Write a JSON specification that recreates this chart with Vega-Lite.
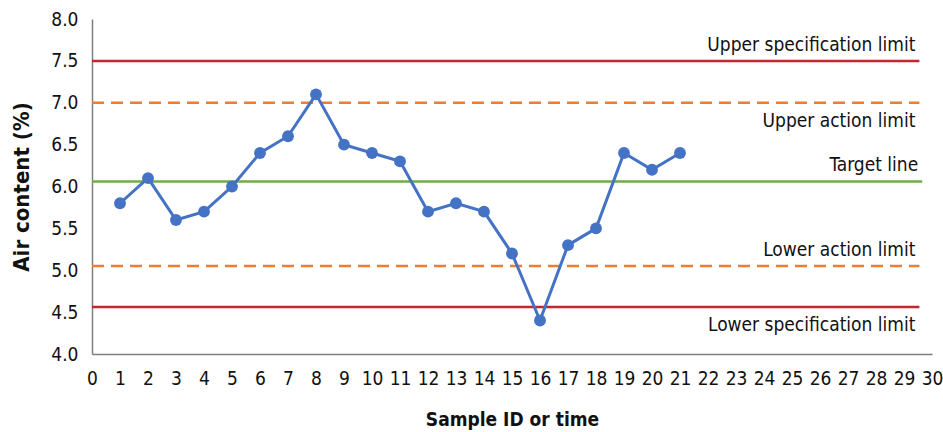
{
  "$schema": "https://vega.github.io/schema/vega-lite/v6.json",
  "width": 840,
  "height": 335,
  "autosize": "none",
  "padding": {"left": 92, "top": 19, "right": 11, "bottom": 78},
  "background": "white",
  "config": {
    "font": "DejaVu Sans Condensed, sans-serif",
    "view": {"stroke": null},
    "axis": {"grid": false, "ticks": false, "domainColor": "#7f7f7f", "domainWidth": 1.5,
      "labelFont": "DejaVu Sans Condensed, sans-serif", "labelFontSize": 19, "labelColor": "#111111",
      "titleFont": "DejaVu Sans Condensed, sans-serif", "titleFontWeight": "bold", "titleColor": "#111111"}
  },
  "datasets": {
    "samples": [
      {"sample": 1, "air": 5.8}, {"sample": 2, "air": 6.1}, {"sample": 3, "air": 5.6},
      {"sample": 4, "air": 5.7}, {"sample": 5, "air": 6.0}, {"sample": 6, "air": 6.4},
      {"sample": 7, "air": 6.6}, {"sample": 8, "air": 7.1}, {"sample": 9, "air": 6.5},
      {"sample": 10, "air": 6.4}, {"sample": 11, "air": 6.3}, {"sample": 12, "air": 5.7},
      {"sample": 13, "air": 5.8}, {"sample": 14, "air": 5.7}, {"sample": 15, "air": 5.2},
      {"sample": 16, "air": 4.4}, {"sample": 17, "air": 5.3}, {"sample": 18, "air": 5.5},
      {"sample": 19, "air": 6.4}, {"sample": 20, "air": 6.2}, {"sample": 21, "air": 6.4}
    ],
    "limits": [
      {"name": "Upper specification limit", "value": 7.5, "start": 0, "end": 29.55, "kind": "spec", "side": "above"},
      {"name": "Upper action limit", "value": 7.0, "start": 0, "end": 29.55, "kind": "action", "side": "below"},
      {"name": "Target line", "value": 6.06, "start": 0, "end": 29.65, "kind": "target", "side": "above"},
      {"name": "Lower action limit", "value": 5.05, "start": 0, "end": 29.55, "kind": "action", "side": "above"},
      {"name": "Lower specification limit", "value": 4.56, "start": 0, "end": 29.55, "kind": "spec", "side": "below"}
    ]
  },
  "encoding": {
    "x": {"type": "quantitative", "scale": {"domain": [0, 30]},
      "axis": {"values": [0,1,2,3,4,5,6,7,8,9,10,11,12,13,14,15,16,17,18,19,20,21,22,23,24,25,26,27,28,29,30], "format": "d", "labelOverlap": false, "labelFlush": false, "labelBound": false, "labelPadding": 15, "title": "Sample ID or time", "titleFontSize": 19, "titlePadding": 22}},
    "y": {"type": "quantitative", "scale": {"domain": [4, 8]},
      "axis": {"values": [4, 4.5, 5, 5.5, 6, 6.5, 7, 7.5, 8], "format": ".1f", "labelPadding": 14, "title": "Air content (%)", "titleFontSize": 22, "titlePadding": 17}}
  },
  "layer": [
    {
      "data": {"name": "limits"},
      "mark": {"type": "rule", "strokeWidth": 2.5},
      "encoding": {
        "y": {"field": "value"},
        "x": {"field": "start"},
        "x2": {"field": "end"},
        "color": {"field": "kind", "type": "nominal", "scale": {"domain": ["spec", "action", "target"], "range": ["#C3272D", "#ED7D31", "#70AD47"]}, "legend": null},
        "strokeDash": {"field": "kind", "type": "nominal", "scale": {"domain": ["spec", "action", "target"], "range": [[1, 0], [12, 7], [1, 0]]}, "legend": null}
      }
    },
    {
      "data": {"name": "limits"},
      "transform": [{"filter": "datum.side == 'above'"}],
      "mark": {"type": "text", "align": "right", "baseline": "alphabetic", "dy": -10, "dx": -4, "fontSize": 19, "color": "#111111"},
      "encoding": {
        "y": {"field": "value"},
        "x": {"field": "end"},
        "text": {"field": "name"}
      }
    },
    {
      "data": {"name": "limits"},
      "transform": [{"filter": "datum.side == 'below'"}],
      "mark": {"type": "text", "align": "right", "baseline": "alphabetic", "dy": 24, "dx": -4, "fontSize": 19, "color": "#111111"},
      "encoding": {
        "y": {"field": "value"},
        "x": {"field": "end"},
        "text": {"field": "name"}
      }
    },
    {
      "data": {"name": "samples"},
      "mark": {"type": "line", "color": "#4472C4", "strokeWidth": 3, "point": {"filled": true, "size": 140, "color": "#4472C4", "opacity": 1}},
      "encoding": {
        "x": {"field": "sample"},
        "y": {"field": "air"}
      }
    }
  ]
}
